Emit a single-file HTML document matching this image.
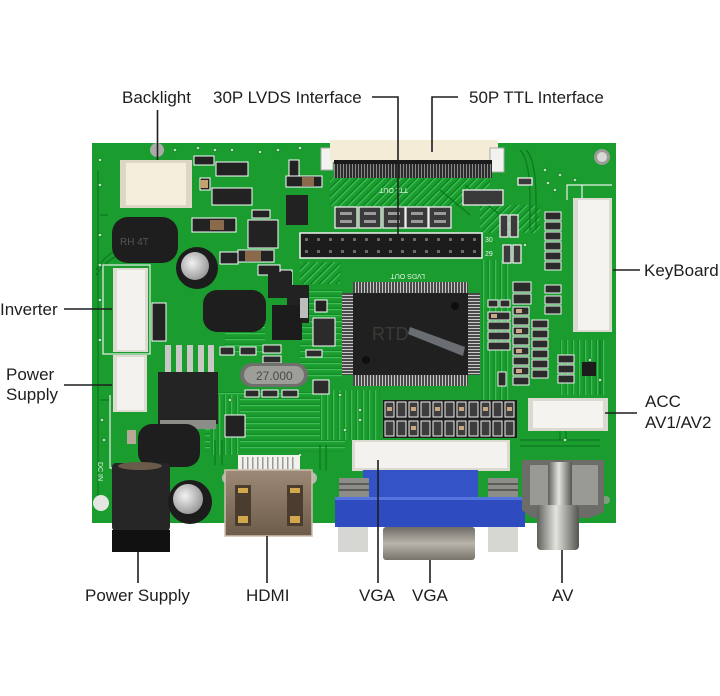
<!DOCTYPE html>
<html><head><meta charset="utf-8"><style>
html,body{margin:0;padding:0;background:#fff;}
svg{display:block;}
.lb{font-family:"Liberation Sans",Arial,sans-serif;font-size:17px;fill:#1e1e1e;}
.silk{font-family:"Liberation Sans",Arial,sans-serif;font-size:7px;fill:#e8f5e8;}
</style></head><body>
<svg width="720" height="696" viewBox="0 0 720 696" xmlns="http://www.w3.org/2000/svg">
<defs>
<linearGradient id="silver" x1="0" x2="1" y1="0" y2="0"><stop offset="0" stop-color="#5e5e5a"/><stop offset=".45" stop-color="#e4e4df"/><stop offset="1" stop-color="#55554f"/></linearGradient>
<linearGradient id="silverv" x1="0" x2="0" y1="0" y2="1"><stop offset="0" stop-color="#6f6c66"/><stop offset=".5" stop-color="#b9b5ac"/><stop offset="1" stop-color="#77736b"/></linearGradient>
<linearGradient id="hdmig" x1="0" x2="0" y1="0" y2="1"><stop offset="0" stop-color="#9c8a76"/><stop offset="1" stop-color="#6e5c4a"/></linearGradient>
<radialGradient id="capg" cx=".4" cy=".4" r=".7"><stop offset="0" stop-color="#f2f2f2"/><stop offset="1" stop-color="#8d8d8d"/></radialGradient>
<pattern id="vpins" width="3" height="10" patternUnits="userSpaceOnUse"><rect width="3" height="10" fill="#2a2a2a"/><rect x="0.8" width="1.4" height="10" fill="#c9c9c9"/></pattern>
<pattern id="hpins" width="10" height="3" patternUnits="userSpaceOnUse"><rect width="10" height="3" fill="#2a2a2a"/><rect y="0.8" width="10" height="1.4" fill="#c9c9c9"/></pattern>
<pattern id="teeth" width="3" height="10" patternUnits="userSpaceOnUse"><rect width="3" height="10" fill="#2b2b2b"/><rect x="1" width="1" height="10" fill="#8a8a8a"/></pattern>
<pattern id="diag" width="6" height="6" patternUnits="userSpaceOnUse" patternTransform="rotate(45)"><rect width="6" height="6" fill="#1a9c2f"/><rect width="1.2" height="6" fill="#0c7a20"/><rect x="1.2" width="1.4" height="6" fill="#3cc052"/></pattern>
<pattern id="hl" width="10" height="6" patternUnits="userSpaceOnUse"><rect width="10" height="6" fill="#1a9c2f"/><rect y="1.8" width="10" height="1" fill="#0c7a20"/><rect y="2.8" width="10" height="1.4" fill="#3cc052"/></pattern>
<pattern id="vl" width="6" height="10" patternUnits="userSpaceOnUse"><rect width="6" height="10" fill="#1a9c2f"/><rect x="1.8" width="1" height="10" fill="#0c7a20"/><rect x="2.8" width="1.4" height="10" fill="#3cc052"/></pattern>
</defs>

<rect width="720" height="696" fill="#fff"/>

<!-- BOARD -->
<rect x="92" y="143" width="524" height="380" fill="#1a9c2f"/>

<!-- trace textures -->
<rect x="330" y="178" width="160" height="28" fill="url(#diag)"/>
<rect x="300" y="290" width="42" height="90" fill="url(#hl)"/>
<rect x="205" y="392" width="140" height="60" fill="url(#hl)"/>
<rect x="210" y="395" width="30" height="60" fill="url(#vl)"/>
<rect x="320" y="390" width="60" height="50" fill="url(#vl)"/>
<rect x="480" y="260" width="30" height="140" fill="url(#vl)"/>
<rect x="300" y="262" width="40" height="22" fill="url(#diag)"/>
<rect x="480" y="205" width="60" height="28" fill="url(#diag)"/>
<rect x="225" y="300" width="40" height="55" fill="url(#hl)"/>
<rect x="560" y="340" width="45" height="55" fill="url(#vl)"/>
<g stroke="#0c7a20" stroke-width="1.3" fill="none">
<path d="M100 215 H108 M100 400 H110 M98 170 V500"/>
<path d="M520 440 H600 M520 446 H600 M440 190 L470 215 M465 185 L500 215"/>
<path d="M215 465 V440 M222 465 V440 M320 470 V445 M326 470 V445"/>
<path d="M96 270 Q110 245 150 240 M96 275 Q112 250 152 246"/>
<path d="M520 150 Q530 160 530 200 V230 M526 150 Q536 160 536 200 V230"/>
<path d="M560 400 V440 M566 400 V440 M600 340 V395"/>
</g>
<!-- vias -->
<g fill="#b0e6b0" stroke="#0c7a20" stroke-width="0.8">
<circle cx="100" cy="160" r="1.8"/><circle cx="100" cy="185" r="1.8"/><circle cx="100" cy="235" r="1.8"/><circle cx="100" cy="265" r="1.8"/><circle cx="100" cy="300" r="1.8"/><circle cx="100" cy="340" r="1.8"/><circle cx="102" cy="420" r="1.8"/><circle cx="104" cy="440" r="1.8"/>
<circle cx="175" cy="150" r="1.8"/><circle cx="198" cy="148" r="1.8"/><circle cx="215" cy="150" r="1.8"/><circle cx="232" cy="150" r="1.8"/><circle cx="260" cy="152" r="1.8"/><circle cx="278" cy="150" r="1.8"/><circle cx="300" cy="148" r="1.8"/>
<circle cx="545" cy="170" r="1.8"/><circle cx="560" cy="175" r="1.8"/><circle cx="575" cy="180" r="1.8"/><circle cx="525" cy="245" r="1.8"/><circle cx="555" cy="190" r="1.8"/><circle cx="548" cy="183" r="1.8"/>
<circle cx="230" cy="400" r="1.8"/><circle cx="360" cy="410" r="1.8"/><circle cx="360" cy="420" r="1.8"/><circle cx="345" cy="430" r="1.8"/><circle cx="300" cy="455" r="1.8"/><circle cx="340" cy="395" r="1.8"/>
<circle cx="590" cy="360" r="1.8"/><circle cx="600" cy="380" r="1.8"/><circle cx="565" cy="440" r="1.8"/><circle cx="590" cy="470" r="1.8"/>
</g>

<!-- mounting holes -->
<circle cx="157" cy="150" r="7" fill="#a9aca6"/>
<circle cx="602" cy="157" r="8" fill="#9a9d97"/><circle cx="602" cy="157" r="5" fill="#d8d8d4"/>
<circle cx="101" cy="503" r="8" fill="#e4e6e2"/>
<circle cx="606" cy="500" r="4" fill="#7e9e7e"/>

<!-- TOP FPC (50P TTL) -->
<rect x="321" y="148" width="12" height="22" fill="#f2f2ee" stroke="#aaa" stroke-width="1"/>
<rect x="330" y="140" width="168" height="22" fill="#f4ecd6"/>
<rect x="490" y="148" width="14" height="24" fill="#f2f2ee" stroke="#aaa" stroke-width="1"/>
<rect x="334" y="160" width="158" height="18" fill="url(#teeth)"/>
<rect x="334" y="160" width="158" height="4" fill="#1a1a1a"/>
<text class="silk" x="0" y="0" transform="translate(408,188) rotate(180)">TTL OUT</text>

<!-- Backlight connector -->
<rect x="120" y="160" width="72" height="48" fill="#dcd6c4"/>
<rect x="126" y="163" width="60" height="42" fill="#f5eedc"/>

<!-- small SMD top-left -->
<g fill="#222" stroke="#fff" stroke-width="1">
<rect x="194" y="156" width="20" height="9"/>
<rect x="216" y="162" width="32" height="14"/>
<rect x="212" y="188" width="40" height="17"/>
<rect x="200" y="178" width="10" height="12"/>
<rect x="289" y="160" width="10" height="16"/>
<rect x="286" y="176" width="36" height="11"/>
<rect x="286" y="195" width="22" height="30" stroke="none"/>
<rect x="252" y="210" width="18" height="8"/>
<rect x="248" y="220" width="30" height="28"/>
<rect x="192" y="218" width="44" height="14"/>
<rect x="220" y="252" width="18" height="12"/>
<rect x="238" y="250" width="36" height="12"/>
<rect x="270" y="270" width="22" height="20"/>
<rect x="258" y="265" width="22" height="10"/>
<rect x="287" y="285" width="22" height="38" stroke="none"/>
<rect x="315" y="300" width="12" height="12"/>
<rect x="315" y="320" width="12" height="12"/>
</g>
<g fill="#8a6a4a"><rect x="302" y="177" width="12" height="9"/><rect x="210" y="220" width="14" height="10"/><rect x="245" y="251" width="16" height="10"/><rect x="200" y="180" width="8" height="8" fill="#c8a070"/></g>

<!-- Resistor arrays above header -->
<g fill="#3a3a3a" stroke="#eee" stroke-width="1.3">
<rect x="335" y="207" width="22" height="21"/><rect x="359" y="207" width="22" height="21"/><rect x="383" y="207" width="22" height="21"/><rect x="406" y="207" width="22" height="21"/><rect x="429" y="207" width="22" height="21"/>
<rect x="463" y="190" width="40" height="15"/>
<rect x="500" y="215" width="8" height="22"/><rect x="510" y="215" width="8" height="22"/>
<rect x="503" y="245" width="8" height="18"/><rect x="513" y="245" width="8" height="18"/>
<rect x="518" y="178" width="14" height="7"/>
</g>
<g fill="#9a9a9a"><rect x="340" y="212" width="12" height="3"/><rect x="364" y="212" width="12" height="3"/><rect x="388" y="212" width="12" height="3"/><rect x="411" y="212" width="12" height="3"/><rect x="434" y="212" width="12" height="3"/>
<rect x="340" y="220" width="12" height="3"/><rect x="364" y="220" width="12" height="3"/><rect x="388" y="220" width="12" height="3"/><rect x="411" y="220" width="12" height="3"/><rect x="434" y="220" width="12" height="3"/></g>

<!-- 30P header -->
<rect x="300" y="233" width="182" height="25" fill="#1c1c1c" stroke="#f0f0f0" stroke-width="1.5"/>
<g fill="#6a6a6a">
<rect x="305" y="238" width="3" height="3"/><rect x="317" y="238" width="3" height="3"/><rect x="329" y="238" width="3" height="3"/><rect x="341" y="238" width="3" height="3"/><rect x="353" y="238" width="3" height="3"/><rect x="365" y="238" width="3" height="3"/><rect x="377" y="238" width="3" height="3"/><rect x="389" y="238" width="3" height="3"/><rect x="401" y="238" width="3" height="3"/><rect x="413" y="238" width="3" height="3"/><rect x="425" y="238" width="3" height="3"/><rect x="437" y="238" width="3" height="3"/><rect x="449" y="238" width="3" height="3"/><rect x="461" y="238" width="3" height="3"/><rect x="473" y="238" width="3" height="3"/>
<rect x="305" y="250" width="3" height="3"/><rect x="317" y="250" width="3" height="3"/><rect x="329" y="250" width="3" height="3"/><rect x="341" y="250" width="3" height="3"/><rect x="353" y="250" width="3" height="3"/><rect x="365" y="250" width="3" height="3"/><rect x="377" y="250" width="3" height="3"/><rect x="389" y="250" width="3" height="3"/><rect x="401" y="250" width="3" height="3"/><rect x="413" y="250" width="3" height="3"/><rect x="425" y="250" width="3" height="3"/><rect x="437" y="250" width="3" height="3"/><rect x="449" y="250" width="3" height="3"/><rect x="461" y="250" width="3" height="3"/><rect x="473" y="250" width="3" height="3"/>
</g>
<text class="silk" x="0" y="0" transform="translate(485,242)">30</text>
<text class="silk" x="0" y="0" transform="translate(485,256)">29</text>
<text class="silk" x="0" y="0" transform="translate(425,274) rotate(180)">LVDS OUT</text>

<!-- Inductor 1 -->
<rect x="112" y="217" width="66" height="46" rx="16" fill="#1e1e1e"/>
<text x="120" y="245" font-family="Liberation Sans,sans-serif" font-size="10" fill="#555">RH 4T</text>
<!-- Cap 1 -->
<circle cx="197" cy="268" r="21" fill="#1c1c1c"/>
<circle cx="195" cy="266" r="14" fill="url(#capg)"/>

<!-- Inverter connector -->
<rect x="103" y="265" width="47" height="89" fill="none" stroke="#e8f0e8" stroke-width="1.2"/>
<rect x="113" y="268" width="35" height="84" fill="#dedbd2"/>
<rect x="117" y="270" width="28" height="80" fill="#f3f2ee"/>
<rect x="152" y="303" width="14" height="38" fill="#222" stroke="#fff" stroke-width="1"/>

<!-- Inductor 2 -->
<rect x="203" y="290" width="63" height="42" rx="14" fill="#1e1e1e"/>
<rect x="268" y="272" width="24" height="26" fill="#222"/>
<rect x="272" y="305" width="30" height="35" fill="#1c1c1c"/>
<rect x="300" y="298" width="8" height="20" fill="#bdbdbd"/>

<!-- Power connector left -->
<rect x="113" y="355" width="34" height="57" fill="#dedbd2"/>
<rect x="117" y="357" width="27" height="53" fill="#f3f2ee"/>

<!-- Regulator -->
<g fill="#c8c8c4">
<rect x="165" y="345" width="6" height="28"/><rect x="176" y="345" width="6" height="28"/><rect x="187" y="345" width="6" height="28"/><rect x="198" y="345" width="6" height="28"/><rect x="208" y="345" width="6" height="28"/>
</g>
<rect x="158" y="372" width="60" height="52" fill="#242424"/>
<rect x="160" y="420" width="56" height="9" fill="#8c8c88"/>
<rect x="225" y="415" width="20" height="22" fill="#222" stroke="#fff" stroke-width="1"/>

<!-- SMDs near crystal -->
<g fill="#2b2b2b" stroke="#fff" stroke-width="1">
<rect x="220" y="347" width="14" height="8"/><rect x="240" y="347" width="16" height="8"/><rect x="263" y="345" width="18" height="8"/><rect x="263" y="356" width="18" height="7"/>
<rect x="245" y="390" width="14" height="7"/><rect x="262" y="390" width="16" height="7"/><rect x="282" y="390" width="16" height="7"/>
<rect x="313" y="380" width="16" height="14"/>
<rect x="313" y="318" width="22" height="28"/>
<rect x="306" y="350" width="16" height="7"/>
</g>
<!-- Crystal -->
<rect x="240" y="363" width="68" height="24" rx="12" fill="#6f6f6b"/>
<rect x="244" y="366" width="60" height="18" rx="9" fill="#9e9e99"/>
<text x="256" y="380" font-family="Liberation Sans,sans-serif" font-size="12" fill="#4a4a46">27.000</text>

<!-- QFP chip -->
<rect x="353" y="282" width="115" height="11" fill="url(#vpins)"/>
<rect x="353" y="375" width="115" height="11" fill="url(#vpins)"/>
<rect x="342" y="293" width="11" height="82" fill="url(#hpins)"/>
<rect x="468" y="293" width="12" height="82" fill="url(#hpins)"/>
<rect x="353" y="293" width="115" height="82" fill="#202020"/>
<path d="M410 327 L465 347 L463 356 L408 334 Z" fill="#8a8e96" opacity=".7"/>
<circle cx="455" cy="306" r="4" fill="#0e0e0e"/>
<circle cx="366" cy="360" r="4" fill="#0e0e0e"/>
<text x="372" y="340" font-family="Liberation Sans,sans-serif" font-size="18" fill="#3c3a36">RTD</text>

<!-- right side SMD clusters -->
<g fill="#2b2b2b" stroke="#f4f4f4" stroke-width="1">
<rect x="488" y="300" width="10" height="7"/><rect x="500" y="300" width="10" height="7"/>
<rect x="488" y="312" width="22" height="8"/><rect x="488" y="322" width="22" height="8"/><rect x="488" y="332" width="22" height="8"/><rect x="488" y="342" width="22" height="8"/>
<rect x="513" y="282" width="18" height="10"/><rect x="513" y="294" width="18" height="10"/>
<rect x="513" y="307" width="16" height="8"/><rect x="513" y="317" width="16" height="8"/><rect x="513" y="327" width="16" height="8"/><rect x="513" y="337" width="16" height="8"/><rect x="513" y="347" width="16" height="8"/><rect x="513" y="357" width="16" height="8"/><rect x="513" y="367" width="16" height="8"/><rect x="513" y="377" width="16" height="8"/>
<rect x="532" y="320" width="16" height="8"/><rect x="532" y="330" width="16" height="8"/><rect x="532" y="340" width="16" height="8"/><rect x="532" y="350" width="16" height="8"/><rect x="532" y="360" width="16" height="8"/><rect x="532" y="370" width="16" height="8"/>
<rect x="545" y="212" width="16" height="8"/><rect x="545" y="222" width="16" height="8"/><rect x="545" y="232" width="16" height="8"/><rect x="545" y="242" width="16" height="8"/><rect x="545" y="252" width="16" height="8"/><rect x="545" y="262" width="16" height="8"/>
<rect x="545" y="285" width="16" height="8"/><rect x="545" y="296" width="16" height="8"/><rect x="545" y="306" width="16" height="8"/>
<rect x="558" y="355" width="16" height="8"/><rect x="558" y="365" width="16" height="8"/><rect x="558" y="375" width="16" height="8"/>
<rect x="498" y="372" width="8" height="14"/>
</g>
<rect x="582" y="362" width="14" height="14" fill="#1c1c1c"/>
<g fill="#c9a98a"><rect x="516" y="309" width="6" height="4"/><rect x="516" y="329" width="6" height="4"/><rect x="516" y="349" width="6" height="4"/><rect x="516" y="369" width="6" height="4"/><rect x="491" y="314" width="6" height="4"/></g>

<!-- KeyBoard connector -->
<path d="M567 200 V185 H612 M582 185 V200" fill="none" stroke="#e8f0e8" stroke-width="1.2"/>
<rect x="573" y="198" width="39" height="134" fill="#dcd9d0"/>
<rect x="578" y="200" width="31" height="130" fill="#f4f3ef"/>

<!-- Lower resistor rows -->
<rect x="383" y="400" width="134" height="38" fill="#1e1e1e"/>
<g fill="#3d3d3d" stroke="#f0f0f0" stroke-width="1">
<rect x="385" y="402" width="9" height="15"/><rect x="397" y="402" width="9" height="15"/><rect x="409" y="402" width="9" height="15"/><rect x="421" y="402" width="9" height="15"/><rect x="433" y="402" width="9" height="15"/><rect x="445" y="402" width="9" height="15"/><rect x="457" y="402" width="9" height="15"/><rect x="469" y="402" width="9" height="15"/><rect x="481" y="402" width="9" height="15"/><rect x="493" y="402" width="9" height="15"/><rect x="505" y="402" width="9" height="15"/>
<rect x="385" y="421" width="9" height="15"/><rect x="397" y="421" width="9" height="15"/><rect x="409" y="421" width="9" height="15"/><rect x="421" y="421" width="9" height="15"/><rect x="433" y="421" width="9" height="15"/><rect x="445" y="421" width="9" height="15"/><rect x="457" y="421" width="9" height="15"/><rect x="469" y="421" width="9" height="15"/><rect x="481" y="421" width="9" height="15"/><rect x="493" y="421" width="9" height="15"/><rect x="505" y="421" width="9" height="15"/>
</g>
<g fill="#c8a882"><rect x="387" y="407" width="5" height="4"/><rect x="411" y="407" width="5" height="4"/><rect x="435" y="407" width="5" height="4"/><rect x="459" y="407" width="5" height="4"/><rect x="483" y="407" width="5" height="4"/><rect x="507" y="407" width="5" height="4"/><rect x="411" y="426" width="5" height="4"/><rect x="459" y="426" width="5" height="4"/></g>

<!-- ACC connector -->
<rect x="528" y="398" width="80" height="33" fill="#dcd9d0"/>
<rect x="533" y="401" width="70" height="27" fill="#f4f3ef"/>

<!-- Inductor 3 -->
<rect x="138" y="424" width="62" height="43" rx="14" fill="#1e1e1e"/>
<rect x="127" y="430" width="9" height="14" fill="#b8a898"/>
<!-- DC IN bracket -->
<path d="M110 395 V468 H140" fill="none" stroke="#e8f0e8" stroke-width="1.2"/>
<text class="silk" x="0" y="0" transform="translate(98,462) rotate(90)">DC IN</text>

<!-- DC jack -->
<rect x="112" y="463" width="58" height="68" rx="4" fill="#262626"/>
<rect x="112" y="530" width="58" height="22" fill="#111"/>
<ellipse cx="140" cy="466" rx="22" ry="4" fill="#6a5a4a"/>
<!-- Cap 2 -->
<circle cx="190" cy="502" r="22" fill="#1c1c1c"/>
<circle cx="188" cy="499" r="15" fill="url(#capg)"/>

<!-- HDMI -->
<rect x="238" y="455" width="62" height="16" fill="#f1f1ee"/>
<g fill="#9a9a96"><rect x="242" y="457" width="1.5" height="12"/><rect x="247" y="457" width="1.5" height="12"/><rect x="252" y="457" width="1.5" height="12"/><rect x="257" y="457" width="1.5" height="12"/><rect x="262" y="457" width="1.5" height="12"/><rect x="267" y="457" width="1.5" height="12"/><rect x="272" y="457" width="1.5" height="12"/><rect x="277" y="457" width="1.5" height="12"/><rect x="282" y="457" width="1.5" height="12"/><rect x="287" y="457" width="1.5" height="12"/><rect x="292" y="457" width="1.5" height="12"/></g>
<circle cx="228" cy="478" r="6" fill="#b9b9b4"/><circle cx="311" cy="478" r="6" fill="#b9b9b4"/>
<rect x="225" y="470" width="87" height="66" fill="url(#hdmig)" stroke="#cdbfae" stroke-width="1.5"/>
<rect x="235" y="485" width="16" height="41" fill="#4a3d30"/>
<rect x="287" y="485" width="16" height="41" fill="#4a3d30"/>
<rect x="238" y="488" width="10" height="5" fill="#d2a84c"/><rect x="290" y="488" width="10" height="5" fill="#d2a84c"/>
<rect x="238" y="516" width="10" height="7" fill="#d2a84c"/><rect x="290" y="516" width="10" height="7" fill="#d2a84c"/>

<!-- VGA -->
<rect x="352" y="440" width="158" height="31" fill="#dcd9d0"/>
<rect x="355" y="442" width="152" height="26" fill="#f3f2ee"/>
<rect x="363" y="470" width="115" height="30" fill="#3453c6"/>
<rect x="339" y="478" width="30" height="22" fill="#8c8c88"/>
<rect x="488" y="478" width="30" height="22" fill="#8c8c88"/>
<g fill="#5a5a56"><rect x="339" y="483" width="30" height="2"/><rect x="339" y="489" width="30" height="2"/><rect x="488" y="483" width="30" height="2"/><rect x="488" y="489" width="30" height="2"/></g>
<rect x="335" y="497" width="190" height="30" fill="#2e4cbf"/>
<rect x="335" y="497" width="190" height="3" fill="#5574de"/>
<rect x="338" y="527" width="30" height="25" fill="#d6d6d2"/>
<rect x="488" y="527" width="30" height="25" fill="#d6d6d2"/>
<rect x="383" y="527" width="92" height="33" rx="3" fill="url(#silverv)"/>

<!-- AV jack -->
<path d="M522 460 H604 V512 L590 518 H532 L522 510 Z" fill="#6c6c68"/>
<path d="M530 465 H598 V505 H530 Z" fill="#9a9a95"/>
<rect x="548" y="462" width="24" height="46" fill="url(#silver)"/>
<rect x="537" y="505" width="42" height="45" rx="4" fill="url(#silver)"/>

<!-- LEADER LINES -->
<g stroke="#1e1e1e" stroke-width="1.6" fill="none">
<path d="M157.5 110 V160"/>
<path d="M372 97 H398 V238"/>
<path d="M458 97 H432 V152"/>
<path d="M613 270 H640"/>
<path d="M64 309 H112"/>
<path d="M64 385 H112"/>
<path d="M605 413 H637"/>
<path d="M138 552 V583"/>
<path d="M267 536 V583"/>
<path d="M378 460 V583"/>
<path d="M430 560 V583"/>
<path d="M562 550 V583"/>
</g>

<!-- LABELS -->
<text class="lb" x="122" y="103">Backlight</text>
<text class="lb" x="213" y="103">30P LVDS Interface</text>
<text class="lb" x="469" y="103">50P TTL Interface</text>
<text class="lb" x="644" y="276">KeyBoard</text>
<text class="lb" x="0" y="315">Inverter</text>
<text class="lb" x="6" y="380">Power</text>
<text class="lb" x="6" y="400">Supply</text>
<text class="lb" x="645" y="407">ACC</text>
<text class="lb" x="645" y="428">AV1/AV2</text>
<text class="lb" x="85" y="601">Power Supply</text>
<text class="lb" x="246" y="601">HDMI</text>
<text class="lb" x="359" y="601">VGA</text>
<text class="lb" x="412" y="601">VGA</text>
<text class="lb" x="552" y="601">AV</text>
</svg>
</body></html>
